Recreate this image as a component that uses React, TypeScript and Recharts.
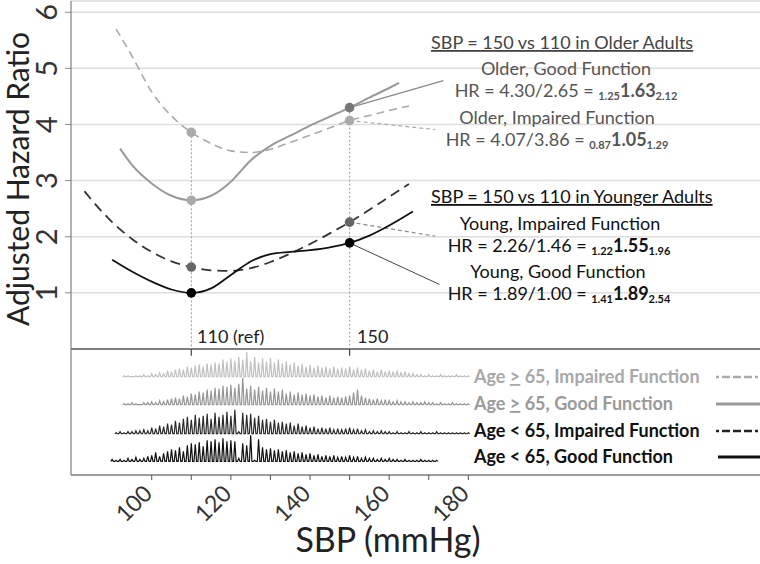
import React from 'react';
import { ComposedChart, Line, XAxis, YAxis, CartesianGrid, ReferenceLine } from 'recharts';

// ---------- data ----------
const SBP_TICKS = [100, 110, 120, 130, 140, 150, 160, 170, 180];
const SBP_LABELED = [100, 120, 140, 160, 180];
const HR_TICKS = [1, 2, 3, 4, 5, 6];
const REF_SBP = [110, 150];

// fitted spline curves [SBP, HR]
const olderImpairedCurve = [[91, 5.7], [95, 5.22], [100, 4.58], [105, 4.15], [110, 3.86], [115, 3.66], [120, 3.53], [125, 3.5], [130, 3.56], [135, 3.68], [140, 3.81], [145, 3.94], [150, 4.07], [155, 4.16], [160, 4.25], [165, 4.33]];
const olderGoodCurve = [[92, 3.57], [95, 3.28], [100, 2.95], [105, 2.73], [110, 2.65], [115, 2.73], [120, 2.98], [125, 3.36], [130, 3.62], [135, 3.8], [140, 3.98], [145, 4.14], [150, 4.3], [155, 4.48], [160, 4.65], [162.5, 4.74]];
const youngerImpairedCurve = [[83, 2.81], [85, 2.64], [90, 2.26], [95, 1.96], [100, 1.73], [105, 1.56], [110, 1.46], [115, 1.4], [120, 1.39], [125, 1.44], [130, 1.55], [135, 1.7], [140, 1.87], [145, 2.06], [150, 2.26], [155, 2.48], [160, 2.71], [165, 2.94]];
const youngerGoodCurve = [[90, 1.59], [95, 1.38], [100, 1.2], [105, 1.06], [110, 1.0], [115, 1.08], [120, 1.32], [125, 1.56], [130, 1.69], [135, 1.73], [140, 1.76], [145, 1.81], [150, 1.89], [155, 2.02], [160, 2.2], [166, 2.45]];

// hazard ratios at SBP 110 and 150
const olderImpairedHR = [3.86, 4.07];
const olderGoodHR = [2.65, 4.3];
const youngerImpairedHR = [1.46, 2.26];
const youngerGoodHR = [1.0, 1.89];

// SBP distributions (relative counts per 1 mmHg)
const histOlderImpairedStart = 93;
const histOlderImpaired = [1, 1, 0, 1, 1, 2, 1, 3, 2, 4, 3, 6, 5, 7, 8, 7, 10, 9, 11, 12, 10, 13, 12, 14, 13, 17, 15, 18, 16, 20, 17, 25, 15, 20, 14, 18, 15, 19, 14, 17, 13, 15, 12, 14, 11, 13, 10, 12, 9, 11, 9, 10, 8, 10, 8, 9, 8, 10, 7, 9, 7, 8, 6, 7, 5, 7, 5, 6, 5, 6, 4, 5, 3, 3, 2, 2, 1, 2, 1, 1, 2, 1, 1, 1, 2, 1, 1, 1];
const histOlderGoodStart = 93;
const histOlderGood = [1, 1, 2, 1, 0, 2, 2, 3, 2, 4, 3, 5, 6, 7, 6, 9, 8, 11, 10, 13, 12, 15, 14, 17, 16, 19, 18, 20, 17, 21, 27, 16, 19, 15, 18, 14, 17, 13, 16, 13, 15, 11, 13, 10, 12, 10, 11, 9, 10, 8, 9, 7, 9, 7, 8, 7, 8, 9, 12, 15, 9, 7, 6, 5, 6, 4, 5, 4, 3, 4, 3, 3, 2, 3, 2, 2, 3, 2, 2, 1, 2, 1, 1, 2, 1, 1, 1, 1];
const histYoungerImpairedStart = 91;
const histYoungerImpaired = [1, 2, 1, 2, 2, 3, 3, 4, 3, 6, 5, 8, 7, 10, 9, 13, 11, 15, 17, 14, 19, 16, 18, 20, 15, 21, 17, 19, 22, 18, 24, 2, 21, 19, 20, 16, 18, 14, 15, 12, 14, 11, 12, 10, 11, 8, 10, 7, 8, 6, 7, 5, 6, 5, 6, 4, 5, 4, 5, 6, 4, 5, 3, 4, 2, 3, 2, 3, 2, 2, 1, 2, 1, 1, 2, 1, 1, 2, 1, 1, 1, 2, 1, 1, 1, 1, 1, 1, 1, 1];
const histYoungerGoodStart = 90;
const histYoungerGood = [2, 1, 2, 1, 3, 2, 4, 2, 3, 5, 6, 9, 5, 8, 10, 12, 11, 14, 10, 16, 18, 17, 19, 15, 21, 20, 22, 19, 23, 20, 21, 20, 3, 18, 16, 26, 1, 22, 14, 12, 13, 11, 12, 10, 11, 9, 10, 8, 9, 7, 8, 6, 7, 5, 6, 5, 6, 4, 5, 4, 6, 4, 5, 3, 4, 3, 3, 2, 3, 2, 3, 2, 2, 1, 2, 1, 1, 1, 2, 1, 1, 1, 1];

// ---------- layout / style ----------
const W = 760;
const H = 564;
const FONT = "Lato, 'Open Sans', sans-serif";
const PX_PER_UNIT = 56.13;
const COUNT_UNIT = 1 / PX_PER_UNIT;

const toPts = (c: number[][]) => c.map(([x, y]) => ({ x, y }));
const toRefPts = (hr: number[]) => hr.map((y, i) => ({ x: REF_SBP[i], y }));
const spikes = (start: number, counts: number[], base: number) => {
  const out: { x: number; y: number }[] = [];
  counts.forEach((c, i) => {
    const s = start + i;
    out.push({ x: s - 0.32, y: base });
    out.push({ x: s, y: base + c * COUNT_UNIT });
    out.push({ x: s + 0.32, y: base });
  });
  return out;
};

const XTick = (props: any) => {
  const { x, y, payload } = props;
  if (!SBP_LABELED.includes(payload.value)) return <g />;
  return (
    <text transform={`translate(${x + 2},${y + 13}) rotate(-45)`} textAnchor="end" fontSize={23} fill="#333" fontFamily={FONT}>
      {payload.value}
    </text>
  );
};

const YTick = (props: any) => {
  const { y, payload } = props;
  return (
    <text transform={`translate(45,${y}) rotate(-90)`} textAnchor="middle" dominantBaseline="central" fontSize={29} fill="#333" fontFamily={FONT}>
      {payload.value}
    </text>
  );
};

const mkDot = (colors: string[]) => (p: any) => (
  <circle key={`d${p.index}-${p.cx}`} cx={p.cx} cy={p.cy} r={4.8} fill={colors[p.index]} stroke="none" />
);

const HRText = ({ x, y, a, b, lo, mid, hi, color }: any) => (
  <text x={x} y={y} textAnchor="middle" fontSize={18} fill={color} fontFamily={FONT}>
    {`HR = ${a}/${b} = `}
    <tspan fontSize={11} fontWeight={700} dy={3}>{lo}</tspan>
    <tspan fontSize={18} fontWeight={700} dy={-3}>{mid}</tspan>
    <tspan fontSize={11} fontWeight={700} dy={3}>{hi}</tspan>
  </text>
);

export default function App() {
  const rowBase = [-0.493, -0.992, -1.509, -2.002];
  return (
    <div style={{ position: 'absolute', left: 0, top: 0, width: W, height: H, background: '#fff' }}>
      <ComposedChart width={W} height={H} margin={{ top: 1, right: 0, bottom: 0, left: 0 }}>
        <CartesianGrid horizontal vertical={false} stroke="#dedede" strokeWidth={1.5} />
        <XAxis
          type="number"
          dataKey="x"
          domain={[79.6, 253.7]}
          ticks={SBP_TICKS}
          tick={<XTick />}
          height={89}
          stroke="#555"
          tickLine={{ stroke: '#555' }}
          tickSize={5}
          allowDataOverflow
        />
        <YAxis
          type="number"
          dataKey="y"
          domain={[-2.245, 6.2]}
          ticks={HR_TICKS}
          tick={<YTick />}
          width={71}
          stroke="#666"
          tickLine={{ stroke: '#888' }}
          tickSize={6}
          allowDataOverflow
        />
        <ReferenceLine y={0} stroke="#555" strokeWidth={1.5} />
        {REF_SBP.map((s) => (
          <ReferenceLine key={`t${s}`} segment={[{ x: s, y: 0 }, { x: s, y: -0.12 }]} stroke="#444" strokeWidth={1.2} />
        ))}
        <ReferenceLine segment={[{ x: 110, y: olderImpairedHR[0] }, { x: 110, y: 0 }]} stroke="#999" strokeDasharray="2 2" />
        <ReferenceLine segment={[{ x: 150, y: olderGoodHR[1] }, { x: 150, y: 0 }]} stroke="#999" strokeDasharray="2 2" />

        {/* leader lines to annotations */}
        <ReferenceLine segment={[{ x: 150, y: olderGoodHR[1] }, { x: 173.7, y: 4.78 }]} stroke="#888" strokeWidth={1.2} />
        <ReferenceLine segment={[{ x: 150, y: olderImpairedHR[1] }, { x: 171.6, y: 3.91 }]} stroke="#aaa" strokeWidth={1.2} strokeDasharray="4 3" />
        <ReferenceLine segment={[{ x: 150, y: youngerImpairedHR[1] }, { x: 171.6, y: 2.01 }]} stroke="#888" strokeWidth={1.2} strokeDasharray="4 3" />
        <ReferenceLine segment={[{ x: 150, y: youngerGoodHR[1] }, { x: 172.7, y: 1.15 }]} stroke="#444" strokeWidth={1} />

        {/* histograms */}
        <Line data={spikes(histOlderImpairedStart, histOlderImpaired, rowBase[0])} dataKey="y" type="linear" stroke="#c0c0c0" strokeWidth={1.2} dot={false} activeDot={false} isAnimationActive={false} />
        <Line data={spikes(histOlderGoodStart, histOlderGood, rowBase[1])} dataKey="y" type="linear" stroke="#959595" strokeWidth={1.2} dot={false} activeDot={false} isAnimationActive={false} />
        <Line data={spikes(histYoungerImpairedStart, histYoungerImpaired, rowBase[2])} dataKey="y" type="linear" stroke="#2a2a2a" strokeWidth={1.2} dot={false} activeDot={false} isAnimationActive={false} />
        <Line data={spikes(histYoungerGoodStart, histYoungerGood, rowBase[3])} dataKey="y" type="linear" stroke="#111" strokeWidth={1.2} dot={false} activeDot={false} isAnimationActive={false} />

        {/* curves */}
        <Line data={toPts(olderImpairedCurve)} dataKey="y" type="monotone" stroke="#aaa" strokeWidth={1.6} strokeDasharray="8 5" dot={false} activeDot={false} isAnimationActive={false} />
        <Line data={toPts(olderGoodCurve)} dataKey="y" type="monotone" stroke="#999" strokeWidth={2} dot={false} activeDot={false} isAnimationActive={false} />
        <Line data={toPts(youngerImpairedCurve)} dataKey="y" type="monotone" stroke="#333" strokeWidth={1.8} strokeDasharray="10 6" dot={false} activeDot={false} isAnimationActive={false} />
        <Line data={toPts(youngerGoodCurve)} dataKey="y" type="monotone" stroke="#111" strokeWidth={1.8} dot={false} activeDot={false} isAnimationActive={false} />

        {/* points at 110 and 150 */}
        <Line data={toRefPts(olderImpairedHR)} dataKey="y" stroke="none" dot={mkDot(['#aaa', '#aaa'])} activeDot={false} isAnimationActive={false} />
        <Line data={toRefPts(olderGoodHR)} dataKey="y" stroke="none" dot={mkDot(['#aaa', '#777'])} activeDot={false} isAnimationActive={false} />
        <Line data={toRefPts(youngerImpairedHR)} dataKey="y" stroke="none" dot={mkDot(['#666', '#666'])} activeDot={false} isAnimationActive={false} />
        <Line data={toRefPts(youngerGoodHR)} dataKey="y" stroke="none" dot={mkDot(['#000', '#000'])} activeDot={false} isAnimationActive={false} />
      </ComposedChart>

      <svg width={W} height={H} style={{ position: 'absolute', left: 0, top: 0, pointerEvents: 'none' }} fontFamily={FONT}>
        {/* axis titles */}
        <text transform="translate(17,179) rotate(-90)" textAnchor="middle" dominantBaseline="central" fontSize={30} fill="#222">Adjusted Hazard Ratio</text>
        <text x={388} y={552} textAnchor="middle" fontSize={34} fill="#222">SBP (mmHg)</text>

        <text x={197} y={343} fontSize={18} fill="#222">110 (ref)</text>
        <text x={357} y={343} fontSize={18} fill="#222">150</text>

        {/* older annotations */}
        <text x={431} y={49} fontSize={18} fill="#444" style={{ textDecoration: 'underline' }}>SBP = 150 vs 110 in Older Adults</text>
        <text x={566} y={75} textAnchor="middle" fontSize={18} fill="#555">Older, Good Function</text>
        <HRText x={566} y={97} a="4.30" b="2.65" lo="1.25" mid="1.63" hi="2.12" color="#555" />
        <text x={557} y={124} textAnchor="middle" fontSize={18} fill="#555">Older, Impaired Function</text>
        <HRText x={557} y={146} a="4.07" b="3.86" lo="0.87" mid="1.05" hi="1.29" color="#555" />

        {/* younger annotations */}
        <text x={431} y={203} fontSize={18} fill="#111" style={{ textDecoration: 'underline' }}>SBP = 150 vs 110 in Younger Adults</text>
        <text x={560} y={229.5} textAnchor="middle" fontSize={18} fill="#111">Young, Impaired Function</text>
        <HRText x={559} y={251.5} a="2.26" b="1.46" lo="1.22" mid="1.55" hi="1.96" color="#111" />
        <text x={558} y={278} textAnchor="middle" fontSize={18} fill="#111">Young, Good Function</text>
        <HRText x={559} y={300} a="1.89" b="1.00" lo="1.41" mid="1.89" hi="2.54" color="#111" />

        {/* legend */}
        <text x={474} y={383} fontSize={18} fontWeight={700} fill="#a8a8a8">Age <tspan style={{ textDecoration: 'underline' }}>&gt;</tspan> 65, Impaired Function</text>
        <text x={474} y={410} fontSize={18} fontWeight={700} fill="#9a9a9a">Age <tspan style={{ textDecoration: 'underline' }}>&gt;</tspan> 65, Good Function</text>
        <text x={474} y={437} fontSize={18} fontWeight={700} fill="#111">Age &lt; 65, Impaired Function</text>
        <text x={474} y={463} fontSize={18} fontWeight={700} fill="#111">Age &lt; 65, Good Function</text>
        <line x1={716} y1={377} x2={760} y2={377} stroke="#aaa" strokeWidth={2.5} strokeDasharray="3 3 8 3 8 3 8" />
        <line x1={716} y1={404} x2={760} y2={404} stroke="#999" strokeWidth={3} />
        <line x1={716} y1={431} x2={760} y2={431} stroke="#222" strokeWidth={2.5} strokeDasharray="3 3 8 3 8 3 8" />
        <line x1={718} y1={457} x2={760} y2={457} stroke="#111" strokeWidth={3} />
      </svg>
    </div>
  );
}
